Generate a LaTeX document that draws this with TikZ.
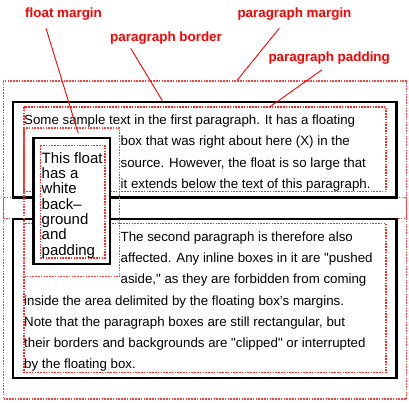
\documentclass[tikz,border=0pt]{standalone}
\usepackage{fontspec}
\setmainfont{Liberation Sans}[Ligatures=TeXOff]
\begin{document}
\begin{tikzpicture}[x=1pt,y=-1pt,
  mrgbox/.style={draw=red!75, line width=1.1pt, dash pattern=on 1.6pt off 1.2pt},
  padbox/.style={draw=red!85, line width=1.1pt, dash pattern=on 1.6pt off 1.2pt},
  brdbox/.style={draw=black, line width=2.3pt},
  txt/.style={anchor=base west, inner sep=0pt, font=\fontsize{13.3}{16}\selectfont},
  ftxt/.style={anchor=base west, inner sep=0pt, font=\fontsize{15}{16}\selectfont},
  lbl/.style={anchor=base west, inner sep=0pt, text=red, font=\fontsize{13.4}{16}\selectfont\bfseries},
  leader/.style={draw=red, line width=0.9pt}]
\useasboundingbox (0,0) rectangle (409,403);
% margins
\draw[mrgbox] (3.3,81) rectangle (406.5,218.3);
\draw[mrgbox] (3.3,197.7) rectangle (406.5,399);
% paddings
\draw[padbox] (24,107) rectangle (386,191.7);
\draw[padbox] (24,223.3) rectangle (386,372.3);
% borders
\draw[brdbox] (13.3,101.7) rectangle (396.5,197.5);
\draw[brdbox] (13.3,218.7) rectangle (396.5,377.7);
% float
\draw[brdbox, fill=white] (33.5,138.3) rectangle (110,264);
\draw[padbox] (40.5,145.5) rectangle (105,258);
\draw[mrgbox] (24,128) rectangle (119.5,276.5);
% paragraph 1 text
\node[txt] (p1a) at (24,124.5) {Some sample text in the first paragraph. It has a floating};
\node[txt] (p1b) at (120.5,145.8) {box that was right about here (X) in the};
\node[txt] (p1c) at (120.5,167.1) {source. However, the float is so large that};
\node[txt] (p1d) at (120.5,188.4) {it extends below the text of this paragraph.};
% paragraph 2 text
\node[txt] (p2a) at (120.5,241.3) {The second paragraph is therefore also};
\node[txt] (p2b) at (120.5,262.5) {affected. Any inline boxes in it are "pushed};
\node[txt] (p2c) at (120.5,283.7) {aside," as they are forbidden from coming};
\node[txt] (p2d) at (24,305) {inside the area delimited by the floating box’s margins.};
\node[txt] (p2e) at (24,326.2) {Note that the paragraph boxes are still rectangular, but};
\node[txt] (p2f) at (24,347.4) {their borders and backgrounds are "clipped" or interrupted};
\node[txt] (p2g) at (24,368.6) {by the floating box.};
% float text
\node[ftxt] (f1) at (41.5,163.3) {This float};
\node[ftxt] (f2) at (41.5,178.6) {has a};
\node[ftxt] (f3) at (41.5,193.9) {white};
\node[ftxt] (f4) at (41.5,209.2) {back–};
\node[ftxt] (f5) at (41.5,224.5) {ground};
\node[ftxt] (f6) at (41.5,239.8) {and};
\node[ftxt] (f7) at (41.5,255.1) {padding};
% labels
\node[lbl] (lfm) at (25,18) {float margin};
\node[lbl] (lpm) at (237.3,18) {paragraph margin};
\node[lbl] (lpb) at (110,41.4) {paragraph border};
\node[lbl] (lpp) at (268.3,61.4) {paragraph padding};
% leader ends
\coordinate (sfm) at (46,28.3);
\coordinate (efm) at (78.3,133.5);
\coordinate (spb) at (130.7,48.3);
\coordinate (epb) at (162.3,100.7);
\coordinate (spm) at (279.3,28.3);
\coordinate (epm) at (237.3,80);
\coordinate (spp) at (321.7,70);
\coordinate (epp) at (270,106.7);
\draw[leader] (sfm) -- (efm);
\draw[leader] (spb) -- (epb);
\draw[leader] (spm) -- (epm);
\draw[leader] (spp) -- (epp);
\end{tikzpicture}
\end{document}
